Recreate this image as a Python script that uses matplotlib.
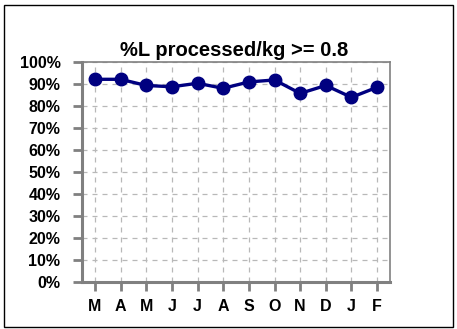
import matplotlib
matplotlib.use("Agg")
import matplotlib.pyplot as plt
from matplotlib.patches import Rectangle

months = ["M", "A", "M", "J", "J", "A", "S", "O", "N", "D", "J", "F"]
values = [92.0, 92.0, 89.2, 88.6, 90.2, 87.9, 90.8, 91.7, 85.6, 89.2, 83.8, 88.4]
yticks = [0, 10, 20, 30, 40, 50, 60, 70, 80, 90, 100]
ytick_labels = [f"{v}%" for v in yticks]
title = "%L processed/kg >= 0.8"

plt.rcParams['font.family'] = ['Liberation Sans', 'DejaVu Sans']

W, H = 457, 329
fig = plt.figure(figsize=(W/100, H/100), dpi=100)
fig.patch.set_facecolor("white")

left, right, top, bottom = 82, 390, 61.7, 281.7
ax = fig.add_axes([left/W, 1 - bottom/H, (right-left)/W, (bottom-top)/H])

x = list(range(len(months)))
ax.plot(x, values, color="#000080", lw=2.4, marker="o", markersize=9, zorder=3, clip_on=False)

ax.set_xlim(-0.5, len(months) - 0.5)
ax.set_ylim(0, 100)
ax.set_yticks(yticks)
ax.set_yticklabels(ytick_labels, fontsize=11.5, fontweight="bold")
ax.set_xticks(x)
ax.set_xticklabels(months, fontsize=11.5, fontweight="bold")

grid_col = "#b8b8b8"
ax.grid(True, color=grid_col, linestyle=(0, (4, 4)), linewidth=0.9)
ax.set_axisbelow(True)

axis_col = "#808080"
for s in ["left", "bottom"]:
    ax.spines[s].set_color(axis_col)
    ax.spines[s].set_linewidth(2.2)
for s in ["right", "top"]:
    ax.spines[s].set_color(axis_col)
    ax.spines[s].set_linewidth(1.2)
ax.tick_params(axis="both", direction="out", length=6.5, width=2, color=axis_col)
ax.tick_params(axis="y", pad=9)
ax.tick_params(axis="x", pad=6)

fig.text(234/W, 1 - 50/H, title, ha="center", va="center", fontsize=14.5, fontweight="bold")

fig.patches.append(Rectangle((4/W, 2/H), (W-8)/W, (H-6.5)/H, transform=fig.transFigure,
                             fill=False, edgecolor="black", linewidth=1.0))

fig.savefig("out.png", dpi=100, facecolor="white")
